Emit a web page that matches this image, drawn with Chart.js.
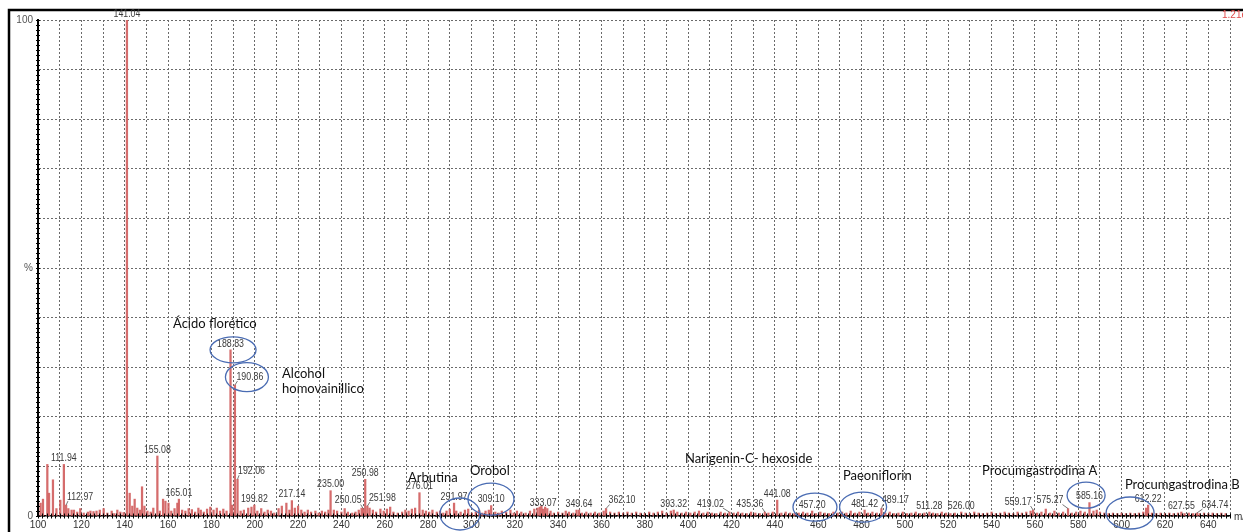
<!DOCTYPE html>
<html>
<head>
<meta charset="utf-8">
<script src="https://cdn.jsdelivr.net/npm/chart.js@4"></script>
<style>
  html, body { margin: 0; padding: 0; background: #ffffff; }
  #wrap { width: 1243px; height: 532px; position: relative; }
</style>
</head>
<body>
<div id="wrap"><canvas id="spectrum" width="1243" height="532"></canvas></div>
<script>
// Labelled ions (m/z) and their relative intensity (%)
const peakMz = [111.94, 112.97, 141.04, 155.08, 165.01, 188.83, 190.86, 192.06, 199.82, 217.14,
  235.00, 250.05, 250.98, 251.98, 276.01, 291.97, 309.10, 333.07, 349.64, 362.10,
  393.32, 419.02, 435.36, 441.08, 457.20, 481.42, 489.17, 511.28, 526.00, 559.17,
  575.27, 585.16, 612.22, 627.55, 634.74];
const peakIntensity = [10.4, 2.2, 100, 12.1, 3.4, 33.5, 26.4, 7.4, 2.2, 3.1,
  5.1, 1.5, 7.4, 2.0, 4.7, 2.6, 2.1, 1.4, 1.2, 1.5,
  1.2, 0.8, 0.8, 3.2, 1.0, 1.2, 1.5, 0.8, 0.8, 1.2,
  1.5, 2.7, 2.2, 0.8, 0.6];

// Unlabelled minor ions
const minorMz = [101.2, 102.3, 104.3, 105.1, 106.9, 108.5, 110.3, 114.0, 115.5, 116.6, 118.1, 119.5,
  121.1, 123.0, 124.2, 125.6, 127.0, 128.5, 130.3, 132.0, 134.0, 135.2, 136.6, 138.0, 139.5,
  142.3, 143.5, 144.6, 145.8, 147.0, 148.0, 149.1, 150.5, 152.0, 153.2, 156.2, 157.7, 158.8,
  160.2, 161.5, 163.0, 164.3, 166.5, 168.0, 169.5, 171.0, 172.5, 174.0, 175.1, 176.5, 178.0,
  179.5, 181.0, 182.5, 184.0, 185.5, 187.0, 189.6, 193.5, 195.0, 197.0, 198.5,
  201.2, 203.0, 204.5, 206.0, 207.5, 209.0, 211.0, 212.5, 214.6, 216.0, 218.5, 220.0, 221.5,
  223.0, 224.5, 226.0, 228.0, 229.5, 231.0, 232.5, 234.0, 236.5, 238.0, 240.0, 241.5, 243.0,
  245.0, 246.5, 248.0, 249.3, 253.0, 254.5, 256.0, 258.0, 259.5, 261.0, 262.5, 264.0, 266.0,
  268.0, 269.5, 271.0, 272.5, 274.0, 277.5, 279.0, 280.5, 282.0, 284.0, 285.5, 287.0, 288.5,
  290.0, 293.0, 295.0, 297.0, 298.5, 300.2, 302.0, 303.5, 305.0, 306.5, 308.0, 311.0, 312.5,
  314.0, 316.0, 318.0, 319.5, 321.0, 323.0, 325.0, 327.0, 329.0, 330.5, 331.5, 332.3, 334.0,
  335.0, 336.5, 338.0, 340.0, 342.0, 343.5, 345.0, 347.0, 348.5, 351.0, 353.0, 355.0, 357.0,
  359.0, 361.0, 364.0, 366.0, 368.0, 370.0, 372.0, 374.0, 376.0, 378.0, 380.0, 382.0, 384.0,
  386.0, 388.0, 390.0, 392.0, 395.0, 397.0, 399.0, 401.0, 403.0, 405.0, 407.0, 409.0, 411.0,
  413.0, 415.0, 417.0, 421.0, 423.0, 425.0, 427.0, 429.0, 431.0, 433.0, 437.0, 439.0, 443.0,
  445.0, 447.0, 449.0, 451.0, 453.0, 455.0, 459.0, 461.0, 463.0, 465.0, 467.0, 469.0, 471.0,
  473.0, 475.0, 477.0, 479.0, 483.0, 485.0, 487.0, 491.0, 493.0, 495.0, 497.0, 499.0, 501.0,
  503.0, 505.0, 507.0, 509.0, 513.0, 515.0, 517.0, 519.0, 521.0, 523.0, 528.0, 530.0, 532.0,
  534.0, 536.0, 538.0, 540.0, 542.0, 544.0, 546.0, 548.0, 550.0, 552.0, 554.0, 556.0, 558.0,
  561.0, 563.0, 565.0, 567.0, 569.0, 571.0, 573.0, 577.0, 579.0, 581.0, 583.0, 587.0, 588.5,
  590.0, 592.0, 594.0, 596.0, 598.0, 600.0, 602.0, 604.0, 606.0, 608.0, 610.0, 611.3, 614.0,
  616.0, 618.0, 620.0, 622.0, 624.0, 626.0, 629.0, 631.0, 633.0, 636.0, 638.0, 640.0, 642.0,
  644.0, 646.0, 648.0];
const minorIntensity = [2.6, 3.4, 10.4, 4.6, 7.3, 1.5, 3.2, 1.5, 1.2, 1.2, 0.8, 1.5,
  0.6, 0.8, 1.0, 0.9, 1.0, 1.2, 1.5, 0.6, 1.0, 0.5, 1.2, 0.8, 0.7,
  4.6, 2.0, 3.4, 1.6, 1.2, 5.9, 2.0, 1.0, 0.8, 1.6, 1.0, 3.4, 3.0,
  2.6, 1.0, 1.5, 2.6, 1.2, 1.0, 1.5, 1.3, 0.8, 1.6, 1.2, 0.8, 1.4,
  1.8, 1.2, 1.6, 1.0, 1.4, 1.0, 2.2, 1.0, 1.2, 1.6, 1.8,
  1.0, 1.5, 0.8, 1.2, 1.0, 0.6, 1.5, 2.0, 2.6, 1.2, 1.6, 2.0, 1.2,
  0.8, 1.2, 0.8, 1.0, 0.6, 1.0, 0.8, 1.2, 1.2, 1.0, 0.8, 1.5, 0.8,
  0.6, 0.8, 1.2, 1.6, 1.6, 1.2, 0.8, 1.4, 1.0, 1.4, 1.8, 0.8, 0.6,
  0.8, 1.2, 1.0, 1.4, 1.6, 1.2, 1.0, 0.8, 1.2, 0.8, 1.0, 0.6, 1.0,
  1.4, 1.0, 0.8, 1.2, 1.4, 0.6, 0.8, 1.2, 0.6, 1.0, 1.2, 0.8, 0.6,
  1.0, 0.8, 1.2, 0.6, 1.0, 0.8, 0.6, 1.0, 1.4, 1.6, 1.8, 2.0, 1.8,
  1.5, 1.0, 0.6, 0.8, 0.6, 1.0, 0.8, 0.6, 1.2, 0.6, 0.8, 0.6, 0.8,
  0.6, 1.0, 0.8, 0.6, 0.8, 0.6, 0.8, 0.6, 0.8, 0.6, 0.5, 0.8, 0.6,
  0.8, 1.0, 0.6, 1.0, 0.8, 0.6, 0.8, 0.6, 0.8, 1.0, 0.6, 0.8, 0.6,
  0.5, 0.8, 0.6, 0.6, 0.8, 0.6, 0.5, 0.8, 0.6, 0.5, 0.6, 0.8, 0.6,
  0.8, 0.6, 0.5, 0.6, 0.8, 0.6, 0.5, 0.8, 0.6, 0.5, 0.8, 0.6, 0.8,
  0.6, 1.0, 0.6, 0.8, 0.6, 0.8, 0.6, 0.6, 0.8, 0.5, 0.6, 0.8, 0.5,
  0.6, 0.8, 0.5, 0.6, 0.6, 0.5, 0.8, 0.6, 0.5, 0.6, 0.6, 0.5, 0.8,
  0.6, 0.5, 0.6, 0.8, 0.5, 0.6, 0.8, 0.6, 0.5, 0.8, 0.6, 0.8, 1.0,
  0.6, 0.8, 1.4, 0.6, 1.0, 0.6, 0.8, 0.6, 0.8, 1.0, 0.8, 1.0, 1.2,
  0.8, 0.6, 0.5, 0.6, 0.5, 0.6, 0.5, 0.6, 0.5, 0.6, 0.8, 1.6, 0.6,
  0.5, 0.6, 0.5, 0.6, 0.5, 0.6, 0.5, 0.6, 0.5, 0.5, 0.6, 0.5, 0.6,
  0.5, 0.6, 0.5];

// Axis tick labels
const xTickLabels = [100, 120, 140, 160, 180, 200, 220, 240, 260, 280, 300, 320, 340, 360, 380,
  400, 420, 440, 460, 480, 500, 520, 540, 560, 580, 600, 620, 640];
const yTickLabels = { 0: '0', 50: '%', 100: '100' };

// Compound names written over the spectrum (anchored in m/z and %)
const compoundNotes = [
  { text: 'Ácido florético', mz: 162.3, level: 38.7 },
  { text: 'Alcohol', mz: 212.6, level: 28.6 },
  { text: 'homovainillico', mz: 212.6, level: 25.6 },
  { text: 'Arbutina', mz: 270.7, level: 7.7 },
  { text: 'Orobol', mz: 299.3, level: 9.1 },
  { text: 'Narigenin-C- hexoside', mz: 398.5, level: 11.5 },
  { text: 'Paeoniflorin', mz: 471.4, level: 8.1 },
  { text: 'Procumgastrodina A', mz: 535.6, level: 9.1 },
  { text: 'Procumgastrodina B', mz: 601.5, level: 6.25 }
];

// Hand-drawn ellipses marking the identified ions
const circled = [
  { mz: 190.0, level: 33.5, rx: 23, ry: 13 },
  { mz: 196.4, level: 28.0, rx: 21.5, ry: 14.5 },
  { mz: 294.7, level: 0.4, rx: 20, ry: 16 },
  { mz: 309.0, level: 3.4, rx: 23, ry: 16 },
  { mz: 458.5, level: 1.8, rx: 22, ry: 14 },
  { mz: 480.7, level: 1.8, rx: 23.5, ry: 15 },
  { mz: 583.6, level: 4.2, rx: 19, ry: 13 },
  { mz: 603.9, level: 0.6, rx: 24, ry: 16 }
];

// Horizontal displacement (px) of labels that sit beside their ion with a leader line
const labelShift = {
  '112.97': 14, '190.86': 15, '192.06': 14, '250.05': -15, '251.98': 15, '362.10': 16,
  '419.02': -19, '435.36': -15, '489.17': 14, '559.17': -15, '575.27': -18, '634.74': 18
};

const bars = [];
peakMz.forEach((m, i) => bars.push({ x: m, y: peakIntensity[i] }));
minorMz.forEach((m, i) => bars.push({ x: m, y: minorIntensity[i] }));
bars.sort((a, b) => a.x - b.x);

Chart.defaults.font.family = "'Liberation Sans', Arial, sans-serif";

const annotate = {
  id: 'annotate',
  beforeDraw(chart) {
    const ctx = chart.ctx;
    ctx.save();
    ctx.fillStyle = '#ffffff';
    ctx.fillRect(0, 0, chart.width, chart.height);
    // outer frame
    ctx.strokeStyle = '#000000';
    ctx.lineWidth = 2.5;
    ctx.beginPath();
    ctx.moveTo(9, chart.height);
    ctx.lineTo(9, 10);
    ctx.lineTo(chart.width, 10);
    ctx.stroke();
    ctx.restore();
  },
  afterDatasetsDraw(chart) {
    const ctx = chart.ctx;
    const xs = chart.scales.x, ys = chart.scales.y;
    const area = chart.chartArea;
    ctx.save();

    // minor ticks crossing both axes
    ctx.strokeStyle = '#000000';
    ctx.lineWidth = 1;
    ctx.beginPath();
    for (let v = 100; v <= 650; v += 2) {
      const px = Math.round(xs.getPixelForValue(v)) + 0.5;
      ctx.moveTo(px, area.bottom - 2.5);
      ctx.lineTo(px, area.bottom + 2.5);
    }
    for (let v = 0; v <= 100; v += 1) {
      const py = Math.round(ys.getPixelForValue(v)) + 0.5;
      ctx.moveTo(area.left - 2, py);
      ctx.lineTo(area.left + 2, py);
    }
    ctx.stroke();

    // ion labels
    ctx.font = "10px 'Liberation Sans', Arial, sans-serif";
    ctx.fillStyle = '#3a3a3a';
    ctx.textAlign = 'center';
    ctx.textBaseline = 'middle';
    peakMz.forEach((m, i) => {
      const text = m.toFixed(2);
      const px = xs.getPixelForValue(m);
      const top = ys.getPixelForValue(peakIntensity[i]);
      const dx = labelShift[text] || 0;
      const cx = px + dx;
      const cy = dx ? top - 8 : top - 6;
      if (dx) {
        const half = ctx.measureText(text).width * 0.88 / 2;
        const ex = dx > 0 ? cx - half + 1 : cx + half - 1;
        ctx.strokeStyle = '#555555';
        ctx.lineWidth = 0.8;
        ctx.beginPath();
        ctx.moveTo(px, top);
        ctx.lineTo(ex, cy + 4);
        ctx.stroke();
      }
      ctx.save();
      ctx.translate(cx, cy);
      ctx.scale(0.88, 1);
      ctx.fillText(text, 0, 0);
      ctx.restore();
    });

    // ellipses
    ctx.strokeStyle = '#4a6cb3';
    ctx.lineWidth = 1.3;
    circled.forEach(c => {
      ctx.beginPath();
      ctx.ellipse(xs.getPixelForValue(c.mz), ys.getPixelForValue(c.level), c.rx, c.ry, 0, 0, Math.PI * 2);
      ctx.stroke();
    });

    // compound names
    ctx.font = "13px Lato, 'Open Sans', sans-serif";
    ctx.fillStyle = '#111111';
    ctx.textAlign = 'left';
    compoundNotes.forEach(n => {
      ctx.fillText(n.text, xs.getPixelForValue(n.mz), ys.getPixelForValue(n.level));
    });

    // scale factor and axis unit
    ctx.font = "10px 'Liberation Sans', Arial, sans-serif";
    ctx.fillStyle = '#e04a4a';
    ctx.fillText('1.21e4', 1222, 15);
    ctx.fillStyle = '#333333';
    ctx.fillText('m/z', 1234, area.bottom + 1);
    ctx.restore();
  }
};

new Chart(document.getElementById('spectrum'), {
  type: 'bar',
  data: {
    datasets: [{
      data: bars,
      backgroundColor: 'rgba(208, 92, 92, 0.9)',
      borderWidth: 0,
      barThickness: 1.6
    }]
  },
  options: {
    responsive: false,
    devicePixelRatio: 1,
    animation: false,
    layout: { padding: { top: 20, right: 13, left: 0, bottom: 0 } },
    plugins: { legend: { display: false }, tooltip: { enabled: false } },
    scales: {
      x: {
        type: 'linear',
        min: 100,
        max: 650,
        offset: false,
        afterFit(s) { s.height = 16; },
        afterBuildTicks(s) {
          const t = [];
          for (let v = 100; v <= 650; v += 10) t.push({ value: v });
          s.ticks = t;
        },
        grid: { color: '#6a6a6a', lineWidth: 1, drawTicks: false, offset: false },
        border: { display: true, color: '#000000', width: 1.5, dash: [2, 2] },
        ticks: {
          autoSkip: false,
          maxRotation: 0,
          padding: 3,
          color: '#333333',
          font: { size: 10 },
          callback: v => xTickLabels.includes(v) ? String(v) : ''
        }
      },
      y: {
        min: 0,
        max: 100,
        afterFit(s) { s.width = 38; },
        afterBuildTicks(s) {
          const t = [];
          for (let v = 0; v <= 100; v += 10) t.push({ value: v });
          s.ticks = t;
        },
        grid: { color: '#6a6a6a', lineWidth: 1, drawTicks: false },
        border: { display: true, color: '#000000', width: 2, dash: [2, 2] },
        ticks: {
          autoSkip: false,
          padding: 5,
          color: '#555555',
          font: { size: 10 },
          callback: v => yTickLabels[v] !== undefined ? yTickLabels[v] : ''
        }
      }
    }
  },
  plugins: [annotate]
});
</script>
</body>
</html>
